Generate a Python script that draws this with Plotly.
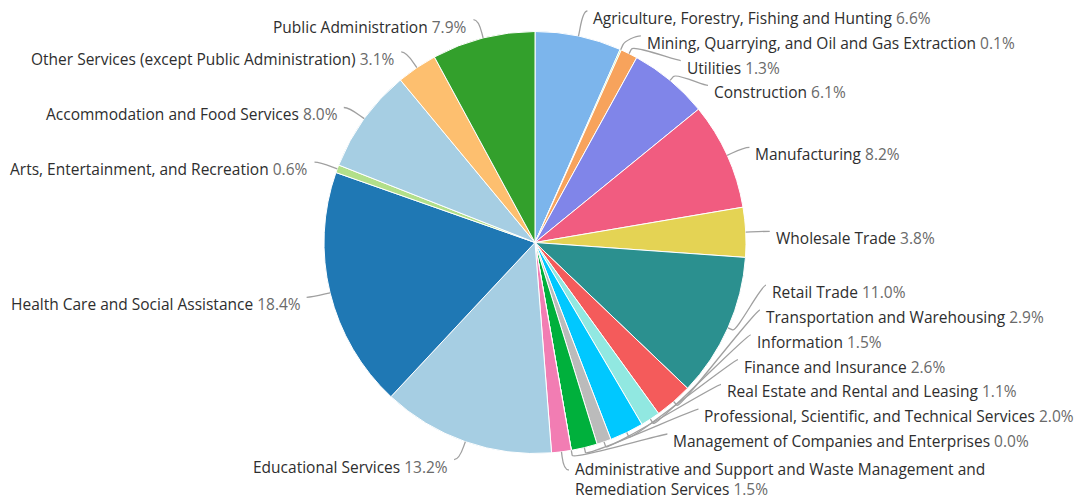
import math
import textwrap
import plotly.graph_objects as go

# ---------------- data ----------------
industries = [
    "Agriculture, Forestry, Fishing and Hunting",
    "Mining, Quarrying, and Oil and Gas Extraction",
    "Utilities",
    "Construction",
    "Manufacturing",
    "Wholesale Trade",
    "Retail Trade",
    "Transportation and Warehousing",
    "Information",
    "Finance and Insurance",
    "Real Estate and Rental and Leasing",
    "Professional, Scientific, and Technical Services",
    "Management of Companies and Enterprises",
    "Administrative and Support and Waste Management and Remediation Services",
    "Educational Services",
    "Health Care and Social Assistance",
    "Arts, Entertainment, and Recreation",
    "Accommodation and Food Services",
    "Other Services (except Public Administration)",
    "Public Administration",
]
shares = [6.6, 0.1, 1.3, 6.1, 8.2, 3.8, 11.0, 2.9, 1.5, 2.6,
          1.1, 2.0, 0.0, 1.5, 13.2, 18.4, 0.6, 8.0, 3.1, 7.9]
colors = ["#7cb5ec", "#90ed7d", "#f7a35c", "#8085e9", "#f15c80", "#e4d354",
          "#2b908f", "#f45b5b", "#91e8e1", "#00c8ff", "#bbbbbb", "#00b03c",
          "#8c564b", "#f27db3", "#a6cee3", "#1f78b4", "#b2df8a", "#a6cee3",
          "#fdbf6f", "#33a02c"]

# ---------------- layout constants (pixels) ----------------
W, H = 1075, 501
CX, CY, R = 535.0, 242.5, 211.0
LABEL_DIST = 19.0
RL = R + LABEL_DIST
PAD = 5.0          # getX padding
CONN_PAD = 5.0     # gap between connector end and text
BREAK = 5.0        # radial tick length of the connector
BASE_GAP = 24.8    # vertical space of a one-line label
EXTRA_GAP = 11.2   # extra space for each extra line
TEXT_DY = 7.0      # text centre below the label anchor
MULTI_SHIFT = 8.0  # multi-line labels start a little higher
LINE_H = 20.0      # plotly line spacing for the font size
TOP, BOTTOM = 11.0, 470.0
WRAP = 53
FONT = "Open Sans"
FONT_SIZE = 15.5
NAME_COLOR = "#2e2e2e"
VALUE_COLOR = "#6a6a6a"
LINE_COLOR = "#a0a0a0"


def px(x):
    return x / W


def py(y):
    return 1 - y / H


total = sum(shares)
cum = 0.0
labels = []
for i, (name, v) in enumerate(zip(industries, shares)):
    th = (cum + v / 2) / total * 2 * math.pi
    cum += v
    s, c = math.sin(th), math.cos(th)
    text = f"{name} {v:.1f}%"
    lines = textwrap.wrap(text, WRAP)
    labels.append(dict(i=i, th=th, s=s, c=c, nat=CY - RL * c,
                       left=s < 0, lines=lines, value=f"{v:.1f}%"))


def distribute(items):
    items = sorted(items, key=lambda d: d["nat"])
    n = len(items)
    offs = [0.0]
    for k in range(1, n):
        g = BASE_GAP + EXTRA_GAP * (len(items[k]["lines"]) - 1)
        offs.append(offs[-1] + g)
    groups = [[k] for k in range(n)]

    def place(gr):
        base = offs[gr[0]]
        ideal = sum(items[k]["nat"] - (offs[k] - base) for k in gr) / len(gr)
        span = offs[gr[-1]] - base
        return min(max(ideal, TOP), BOTTOM - span)

    changed = True
    while changed:
        changed = False
        starts = [place(g) for g in groups]
        for gi in range(len(groups) - 1):
            a, b = groups[gi], groups[gi + 1]
            end_a = starts[gi] + offs[a[-1]] - offs[a[0]]
            need = offs[b[0]] - offs[a[-1]]
            if starts[gi + 1] < end_a + need - 1e-9:
                groups[gi] = a + b
                del groups[gi + 1]
                changed = True
                break
    for g in groups:
        st = place(g)
        for k in g:
            items[k]["y"] = st + offs[k] - offs[g[0]]


distribute([d for d in labels if not d["left"]])
distribute([d for d in labels if d["left"]])

annotations = []
shapes = []
for d in labels:
    y = d["y"]
    sign = -1 if d["left"] else 1
    yx = d["nat"] if (y < CY - R + 2 or y > CY + R - 2) else y
    ratio = max(-1.0, min(1.0, (yx - CY) / RL))
    xc = CX + sign * (math.cos(math.asin(ratio)) * RL + PAD)
    tx, ty = CX + R * d["s"], CY - R * d["c"]
    bx, by = CX + (R + BREAK) * d["s"], CY - (R + BREAK) * d["c"]
    path = (f"M {px(xc)} {py(y)} C {px(xc - sign * 5)} {py(y)} "
            f"{px(2 * bx - tx)} {py(2 * by - ty)} {px(bx)} {py(by)} "
            f"L {px(tx)} {py(ty)}")
    shapes.append(dict(type="path", path=path, xref="paper", yref="paper",
                       line=dict(color=LINE_COLOR, width=1.3), layer="above"))
    xt = xc + sign * CONN_PAD
    n = len(d["lines"])
    parts = []
    for line in d["lines"]:
        if line.endswith(d["value"]):
            nm = line[: -len(d["value"])].rstrip()
            parts.append((f"<span style='color:{NAME_COLOR}'>{nm}</span> " if nm else "")
                         + f"<span style='color:{VALUE_COLOR}'>{d['value']}</span>")
        else:
            parts.append(f"<span style='color:{NAME_COLOR}'>{line}</span>")
    first = y + TEXT_DY - (MULTI_SHIFT if n > 1 else 0)
    centre = first + (n - 1) * LINE_H / 2
    annotations.append(dict(
        x=px(xt), y=py(centre), xref="paper", yref="paper",
        text="<br>".join(parts), showarrow=False,
        xanchor="right" if d["left"] else "left",
        align="right" if d["left"] else "left",
        yanchor="middle", borderpad=0,
        font=dict(family=FONT, size=FONT_SIZE, color=NAME_COLOR)))

fig = go.Figure(go.Pie(
    labels=industries, values=shares, sort=False, direction="clockwise",
    rotation=0, textinfo="none", hoverinfo="label+percent",
    marker=dict(colors=colors, line=dict(color="white", width=1)),
    domain=dict(x=[px(CX - R), px(CX + R)], y=[py(CY + R), py(CY - R)]),
    showlegend=False,
))
fig.update_layout(
    width=W, height=H, margin=dict(l=0, r=0, t=0, b=0),
    paper_bgcolor="white", plot_bgcolor="white",
    annotations=annotations, shapes=shapes,
    font=dict(family=FONT, size=FONT_SIZE),
)
fig.write_html("out.html", config={"displayModeBar": False},
               post_script="document.body.style.margin='0';"
                           "document.body.style.overflow='hidden';")
